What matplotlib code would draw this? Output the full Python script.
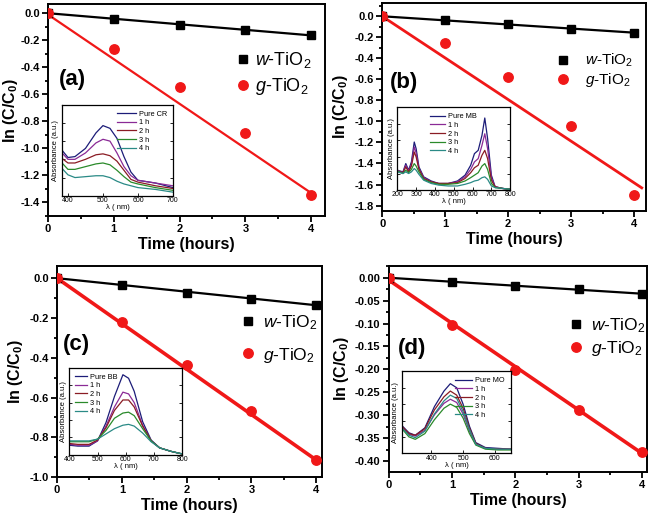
import numpy as np
import matplotlib
matplotlib.use("Agg")
import matplotlib.pyplot as plt
from matplotlib.ticker import MultipleLocator

plt.rcParams['font.family'] = ['Liberation Sans', 'DejaVu Sans']
plt.rcParams['mathtext.fontset'] = 'custom'
plt.rcParams['mathtext.rm'] = 'Liberation Sans'
plt.rcParams['mathtext.it'] = 'Liberation Sans:italic'
plt.rcParams['mathtext.bf'] = 'Liberation Sans:bold'

# ---------------- data ----------------
time_h = [0, 1, 2, 3, 4]

w_a = [0.0, -0.042, -0.086, -0.126, -0.163]
g_a = [0.0, -0.262, -0.543, -0.884, -1.346]
w_b = [0.0, -0.040, -0.078, -0.118, -0.158]
g_b = [0.0, -0.258, -0.573, -1.04, -1.70]
w_c = [0.0, -0.035, -0.074, -0.105, -0.135]
g_c = [0.0, -0.222, -0.436, -0.667, -0.915]
w_d = [0.0, -0.0095, -0.017, -0.025, -0.035]
g_d = [0.0, -0.103, -0.2007, -0.288, -0.381]

# fitted lines: (slope, intercept, end time)
fit_w = {'a': (-0.041, 0.0, 4.0), 'b': (-0.039, 0.0, 4.0),
         'c': (-0.034, 0.0, 4.0), 'd': (-0.0087, 0.0, 4.0)}
fit_g = {'a': (-0.330, -0.01, 4.02), 'b': (-0.396, 0.0, 4.12),
         'c': (-0.2285, 0.0, 4.0), 'd': (-0.0945, -0.005, 4.0)}

spec_labels_time = ['1 h', '2 h', '3 h', '4 h']

# inset (a) Congo red
wl_a = [383, 400, 420, 450, 480, 500, 520, 540, 560, 580, 600, 650, 700]
sa = [
    [0.50, 0.42, 0.43, 0.52, 0.69, 0.77, 0.74, 0.63, 0.43, 0.26, 0.17, 0.14, 0.09],
    [0.47, 0.40, 0.40, 0.47, 0.58, 0.62, 0.60, 0.47, 0.32, 0.22, 0.17, 0.14, 0.11],
    [0.41, 0.36, 0.36, 0.40, 0.45, 0.46, 0.44, 0.38, 0.28, 0.18, 0.15, 0.11, 0.08],
    [0.36, 0.29, 0.29, 0.32, 0.35, 0.36, 0.34, 0.28, 0.21, 0.15, 0.13, 0.09, 0.06],
    [0.30, 0.23, 0.20, 0.21, 0.22, 0.22, 0.20, 0.16, 0.13, 0.11, 0.09, 0.07, 0.04],
]
# inset (b) methylene blue
wl_b = [200, 230, 245, 260, 275, 290, 300, 315, 340, 380, 420, 470, 520, 560,
        590, 610, 630, 650, 665, 680, 700, 720, 760, 800]
sb = [
    [0.24, 0.22, 0.32, 0.24, 0.34, 0.58, 0.50, 0.28, 0.16, 0.11, 0.08, 0.08, 0.11, 0.18,
     0.30, 0.44, 0.48, 0.66, 0.87, 0.62, 0.18, 0.04, 0.02, 0.01],
    [0.24, 0.21, 0.30, 0.23, 0.31, 0.52, 0.45, 0.26, 0.15, 0.10, 0.08, 0.08, 0.10, 0.16,
     0.25, 0.34, 0.38, 0.54, 0.68, 0.50, 0.15, 0.04, 0.02, 0.01],
    [0.23, 0.21, 0.28, 0.22, 0.29, 0.46, 0.40, 0.25, 0.14, 0.10, 0.08, 0.08, 0.09, 0.14,
     0.21, 0.27, 0.30, 0.42, 0.48, 0.38, 0.12, 0.04, 0.02, 0.01],
    [0.23, 0.20, 0.24, 0.21, 0.25, 0.32, 0.29, 0.22, 0.13, 0.09, 0.07, 0.07, 0.08, 0.11,
     0.15, 0.18, 0.21, 0.29, 0.32, 0.25, 0.08, 0.03, 0.02, 0.01],
    [0.22, 0.20, 0.22, 0.20, 0.22, 0.26, 0.24, 0.19, 0.12, 0.08, 0.06, 0.05, 0.05, 0.07,
     0.09, 0.11, 0.12, 0.15, 0.16, 0.13, 0.05, 0.03, 0.02, 0.01],
]
# inset (c) brilliant blue
wl_c = [400, 430, 470, 500, 530, 560, 590, 610, 630, 660, 690, 720, 760, 800]
sc = [
    [0.11, 0.10, 0.10, 0.16, 0.37, 0.67, 0.92, 0.88, 0.73, 0.38, 0.17, 0.08, 0.04, 0.01],
    [0.12, 0.11, 0.11, 0.16, 0.33, 0.55, 0.72, 0.70, 0.60, 0.34, 0.16, 0.08, 0.04, 0.01],
    [0.13, 0.12, 0.12, 0.17, 0.31, 0.51, 0.63, 0.63, 0.55, 0.33, 0.16, 0.08, 0.04, 0.01],
    [0.15, 0.15, 0.15, 0.18, 0.28, 0.42, 0.48, 0.49, 0.45, 0.30, 0.16, 0.08, 0.04, 0.01],
    [0.16, 0.16, 0.16, 0.18, 0.24, 0.30, 0.34, 0.35, 0.33, 0.25, 0.15, 0.08, 0.04, 0.01],
]
# inset (d) methyl orange
wl_d = [310, 330, 350, 380, 410, 440, 460, 480, 500, 520, 540, 570, 610, 650]
sd = [
    [0.33, 0.25, 0.22, 0.31, 0.57, 0.76, 0.85, 0.80, 0.60, 0.33, 0.13, 0.07, 0.06, 0.05],
    [0.31, 0.23, 0.21, 0.28, 0.47, 0.61, 0.66, 0.62, 0.48, 0.27, 0.11, 0.06, 0.05, 0.05],
    [0.32, 0.24, 0.22, 0.30, 0.53, 0.69, 0.76, 0.71, 0.55, 0.31, 0.12, 0.06, 0.05, 0.05],
    [0.29, 0.20, 0.17, 0.24, 0.41, 0.55, 0.60, 0.56, 0.43, 0.24, 0.10, 0.05, 0.04, 0.04],
    [0.30, 0.22, 0.19, 0.27, 0.48, 0.64, 0.71, 0.67, 0.51, 0.29, 0.11, 0.06, 0.05, 0.05],
]
spec_colors = ['#1c1c78', '#8a2a96', '#8a1c24', '#2a8a2a', '#2a8a86']

# ---------------- figure ----------------
fig = plt.figure(figsize=(6.6, 5.18), dpi=100)

panels = {
    'a': dict(rect=[0.0727, 0.583, 0.4197, 0.409], xlim=(0, 4.21), ylim=(-1.50, 0.067),
              ymaj=0.2, ymin=0.1, fmt='%.1f', w=w_a, g=g_a, glw=1.6,
              lab=(0.04, 0.642), leg=(0.671, 0.672), lfs=13, lsp=0.3, ltp=0.17,
              inset=[0.094, 0.622, 0.168, 0.176], wl=wl_a, sp=sa, dye='Pure CR',
              ixlim=(383, 700), ixt=[400, 500, 600, 700], iloc='upper right', ihl=2.6),
    'b': dict(rect=[0.579, 0.593, 0.400, 0.402], xlim=(0, 4.19), ylim=(-1.85, 0.13),
              ymaj=0.2, ymin=0.1, fmt='%.1f', w=w_b, g=g_b, glw=2.0,
              lab=(0.03, 0.615), leg=(0.657, 0.673), lfs=11, lsp=0.13, ltp=0.9,
              inset=[0.602, 0.633, 0.171, 0.160], wl=wl_b, sp=sb, dye='Pure MB',
              ixlim=(200, 800), ixt=[200, 300, 400, 500, 600, 700, 800], iloc='upper center',
              ihl=2.0),
    'c': dict(rect=[0.0864, 0.079, 0.4015, 0.407], xlim=(0, 4.09), ylim=(-1.0, 0.06),
              ymaj=0.2, ymin=0.1, fmt='%.1f', w=w_c, g=g_c, glw=2.6,
              lab=(0.023, 0.63), leg=(0.688, 0.656), lfs=12.5, lsp=0.8, ltp=0.36,
              inset=[0.105, 0.122, 0.171, 0.168], wl=wl_c, sp=sc, dye='Pure BB',
              ixlim=(400, 800), ixt=[400, 500, 600, 700, 800], iloc='upper left', ihl=1.6),
    'd': dict(rect=[0.589, 0.0888, 0.392, 0.398], xlim=(0, 4.09), ylim=(-0.424, 0.026),
              ymaj=0.05, ymin=0.025, fmt='%.2f', w=w_d, g=g_d, glw=2.6,
              lab=(0.035, 0.597), leg=(0.692, 0.653), lfs=12.5, lsp=0.23, ltp=0.36,
              inset=[0.609, 0.125, 0.165, 0.158], wl=wl_d, sp=sd, dye='Pure MO',
              ixlim=(308, 650), ixt=[400, 500, 600], iloc='upper right', ihl=2.4),
}

red = '#f01818'
for key, p in panels.items():
    ax = fig.add_axes(p['rect'])
    sw, bw, ew = fit_w[key]
    sg, bg, eg = fit_g[key]
    tw = np.array([0, ew])
    tg = np.array([0, eg])
    ax.plot(tw, sw * tw + bw, color='black', lw=1.6, zorder=2)
    ax.plot(tg, sg * tg + bg, color=red, lw=p['glw'], zorder=2)
    ax.plot(time_h, p['w'], 's', color='black', ms=5.2, ls='none', zorder=3,
            label=r'$\it{w}$-TiO$_2$')
    ax.plot(time_h, p['g'], 'o', color=red, ms=6.8, ls='none', zorder=3,
            label=r'$\it{g}$-TiO$_2$')
    ax.set_xlim(*p['xlim'])
    ax.set_ylim(*p['ylim'])
    ax.xaxis.set_major_locator(MultipleLocator(1))
    ax.xaxis.set_minor_locator(MultipleLocator(0.5))
    ax.yaxis.set_major_locator(MultipleLocator(p['ymaj']))
    ax.yaxis.set_minor_locator(MultipleLocator(p['ymin']))
    ax.yaxis.set_major_formatter(matplotlib.ticker.FormatStrFormatter(p['fmt']))
    ax.tick_params(which='both', direction='out', top=False, right=False, width=1.3)
    ax.tick_params(which='major', length=4, labelsize=8, pad=2)
    ax.tick_params(which='minor', length=2.5)
    for lbl in ax.get_xticklabels() + ax.get_yticklabels():
        lbl.set_fontweight('bold')
    for s in ax.spines.values():
        s.set_linewidth(1.4)
    ax.set_xlabel('Time (hours)', fontsize=11.5, fontweight='bold', labelpad=2)
    ax.set_ylabel(r'ln (C/C$_\mathbf{0}$)', fontsize=11.5, fontweight='bold',
                  labelpad=0.5 if key == 'a' else 3)
    ax.text(p['lab'][0], p['lab'][1], '(%s)' % key, transform=ax.transAxes,
            fontsize=16, fontweight='bold', ha='left', va='center')
    ax.legend(loc='center left', bbox_to_anchor=p['leg'], frameon=False,
              fontsize=p['lfs'], borderpad=0, borderaxespad=0, handlelength=1.0,
              handletextpad=p['ltp'], labelspacing=p['lsp'])

    ia = fig.add_axes(p['inset'])
    names = [p['dye']] + spec_labels_time
    for spec, c, nm in zip(p['sp'], spec_colors, names):
        ia.plot(p['wl'], spec, color=c, lw=0.9, label=nm)
    ia.set_xlim(*p['ixlim'])
    ia.set_ylim(0, 1)
    ia.set_xticks(p['ixt'])
    ia.yaxis.set_major_locator(MultipleLocator(0.2))
    ia.set_yticklabels([])
    ia.tick_params(direction='in', length=2, width=0.6, labelsize=5, pad=1,
                   right=True, top=False)
    for s in ia.spines.values():
        s.set_linewidth(0.9)
    ia.set_xlabel('λ ( nm)', fontsize=5.5, labelpad=0)
    ia.set_ylabel('Absorbance (a.u.)', fontsize=5.5, labelpad=1)
    ia.legend(loc=p['iloc'], frameon=False, fontsize=5.3, handlelength=p['ihl'],
              labelspacing=0.2, borderpad=0.3, handletextpad=0.4)

fig.savefig('out.png', dpi=100)
